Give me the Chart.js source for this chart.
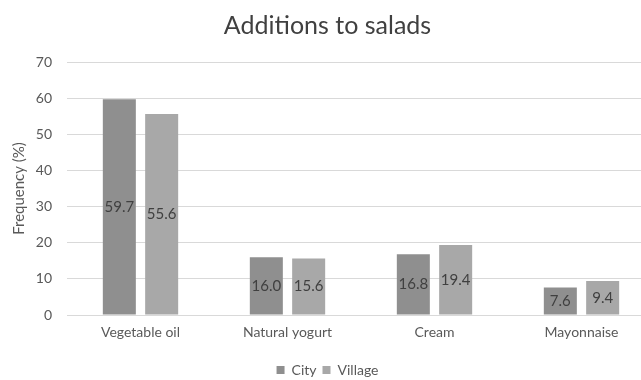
<!DOCTYPE html>
<html>
<head>
<meta charset="utf-8">
<script src="https://cdn.jsdelivr.net/npm/chart.js@4/dist/chart.umd.min.js"></script>
<style>
  html, body { margin: 0; padding: 0; background: #ffffff; overflow: hidden; }
  #wrap { width: 655px; height: 387px; }
</style>
</head>
<body>
<div id="wrap"><canvas id="c" width="655" height="387"></canvas></div>
<script>
const categories = ['Vegetable oil', 'Natural yogurt', 'Cream', 'Mayonnaise'];
const cityValues = [59.7, 16.0, 16.8, 7.6];
const villageValues = [55.6, 15.6, 19.4, 9.4];
const yTicks = [0, 10, 20, 30, 40, 50, 60, 70];

const FONT = 'Lato, "Open Sans", sans-serif';
const TEXT = '#595959';

// Writes each bar's value in the middle of the bar
const barValueLabels = {
  id: 'barValueLabels',
  afterDatasetsDraw(chart) {
    const ctx = chart.ctx;
    ctx.save();
    ctx.font = '15px ' + FONT;
    ctx.fillStyle = '#404040';
    ctx.textAlign = 'center';
    ctx.textBaseline = 'middle';
    chart.data.datasets.forEach((ds, i) => {
      const meta = chart.getDatasetMeta(i);
      meta.data.forEach((bar, j) => {
        const y = (bar.y + bar.base) / 2;
        ctx.fillText(ds.data[j].toFixed(1), bar.x, y);
      });
    });
    ctx.restore();
  }
};

new Chart(document.getElementById('c'), {
  type: 'bar',
  data: {
    labels: categories,
    datasets: [
      { label: 'City', data: cityValues, backgroundColor: '#8f8f8f', categoryPercentage: 0.576, barPercentage: 0.78 },
      { label: 'Village', data: villageValues, backgroundColor: '#a8a8a8', categoryPercentage: 0.576, barPercentage: 0.78 }
    ]
  },
  options: {
    responsive: false,
    animation: false,
    layout: { padding: 0 },
    plugins: {
      title: {
        display: true,
        text: 'Additions to salads',
        color: '#404040',
        font: { family: FONT, size: 25, weight: 'normal', lineHeight: 1.2 },
        padding: { top: 11, bottom: 21 }
      },
      legend: {
        position: 'bottom',
        labels: {
          color: TEXT,
          font: { family: FONT, size: 14 },
          boxWidth: 8,
          boxHeight: 8,
          padding: 6
        }
      },
      tooltip: { enabled: false }
    },
    scales: {
      x: {
        grid: { display: false },
        border: { color: '#d9d9d9' },
        ticks: { color: TEXT, font: { family: FONT, size: 14 }, padding: 1 },
        afterFit(scale) { scale.height = 42; }
      },
      y: {
        min: 0,
        max: 70,
        afterBuildTicks(scale) { scale.ticks = yTicks.map(v => ({ value: v })); },
        grid: { color: '#d9d9d9', drawTicks: false },
        border: { display: false },
        ticks: { color: TEXT, font: { family: FONT, size: 14 }, padding: 15 },
        title: {
          display: true,
          text: 'Frequency (%)',
          color: TEXT,
          font: { family: FONT, size: 15 },
          padding: { top: 10, bottom: 0 }
        },
        afterFit(scale) { scale.width = 67; }
      }
    }
  },
  plugins: [barValueLabels]
});
</script>
</body>
</html>
